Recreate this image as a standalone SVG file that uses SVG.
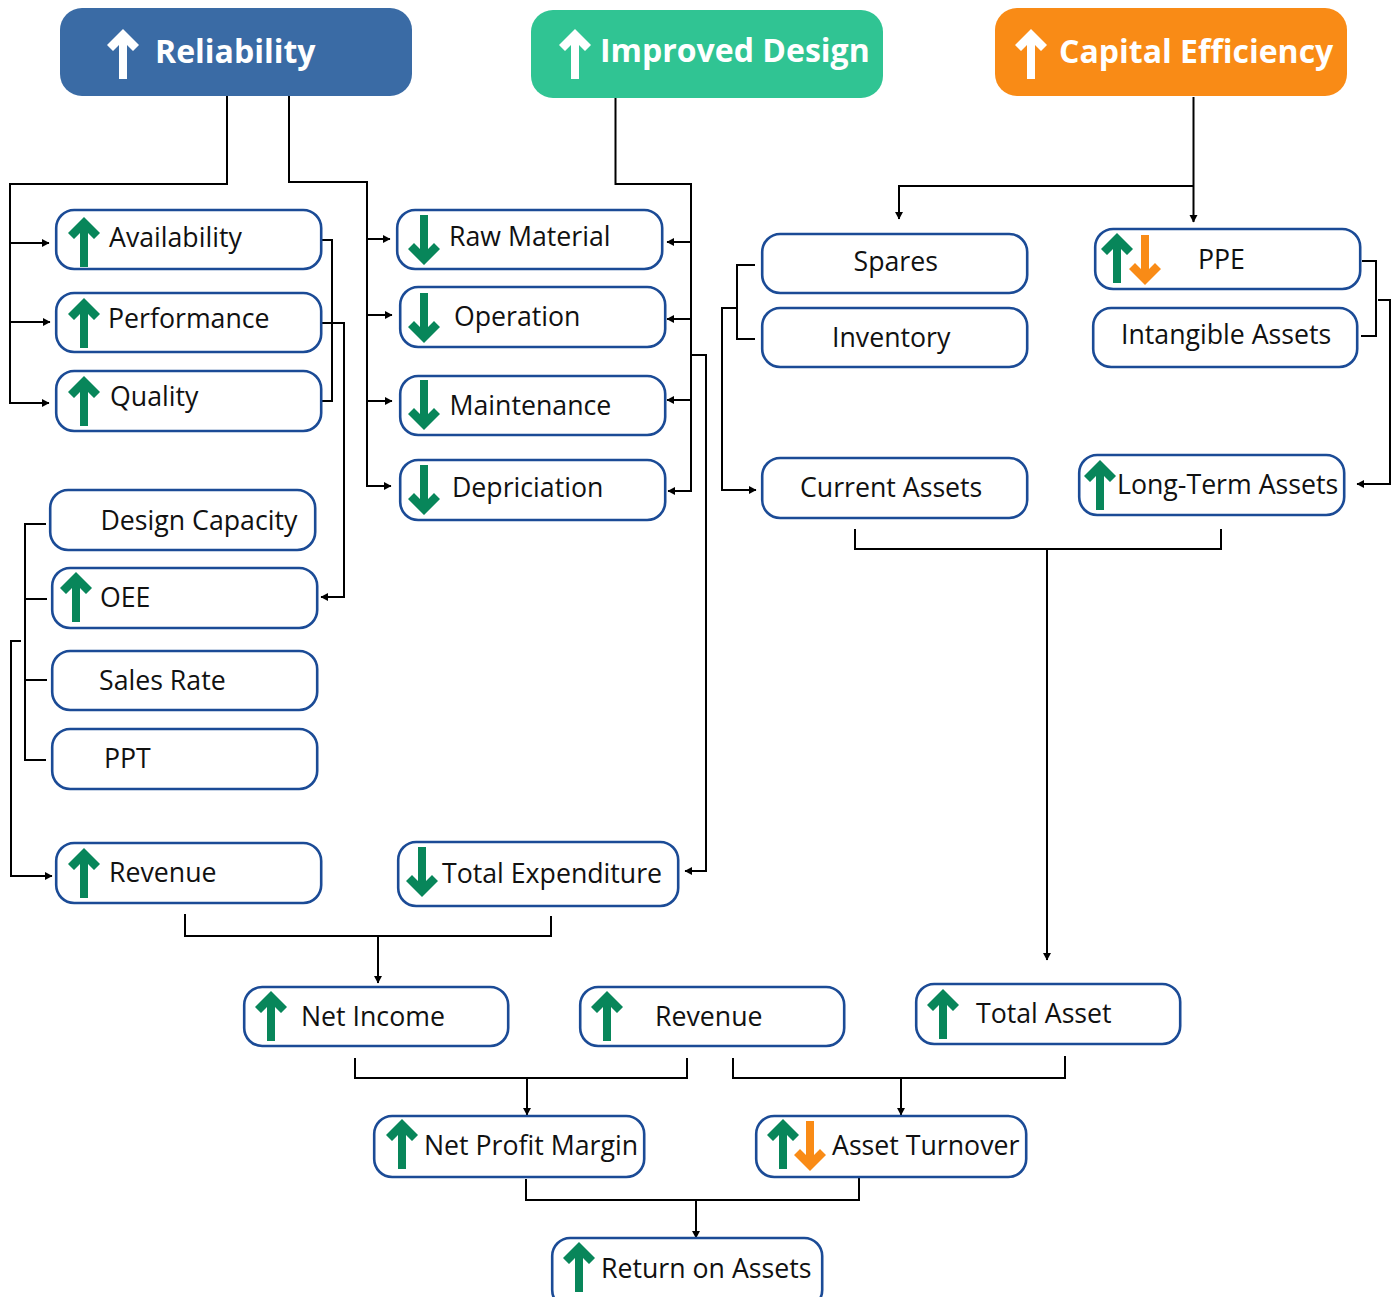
<svg xmlns="http://www.w3.org/2000/svg" width="1396" height="1297" viewBox="0 0 1396 1297">
<style>
text{font-family:"Open Sans","Noto Sans",sans-serif;fill:#111}
.n{font-size:26.7px}
.h{font-size:32px;font-weight:700;fill:#fff}
.b{fill:#fff;stroke:#1B4B96;stroke-width:2.6;transform:translate(.2px,0)}
.c path{fill:none;stroke:#000;stroke-width:2}
.c path.a{marker-end:url(#m)}
</style>
<defs>
<marker id="m" markerUnits="userSpaceOnUse" markerWidth="9" markerHeight="9" refX="7.5" refY="4.5" orient="auto"><path d="M0.5 0.5L8 4.5L0.5 8.5Z" fill="#000"/></marker>
<polygon id="up" points="0,0 16,16 10,22 4,16 4,50 -4,50 -4,16 -10,22 -16,16"/>
<polygon id="dn" points="0,50 16,34 10,28 4,34 4,0 -4,0 -4,34 -10,28 -16,34"/>
</defs>
<g id="connectors" class="c">
<path class="a" d="M227 96V184H10V243H49"/>
<path class="a" d="M10 243V322H50"/>
<path class="a" d="M10 322V403H49"/>
<path class="a" d="M289 96V182H367V239H390"/>
<path class="a" d="M367 239V315H392"/>
<path class="a" d="M367 315V401H392"/>
<path class="a" d="M367 401V486H391"/>
<path d="M322 240H332V401H322"/>
<path class="a" d="M322 323H344V597H321"/>
<path class="a" d="M615.500 98V184H691V242H667"/>
<path class="a" d="M691 242V319H667"/>
<path class="a" d="M691 319V400H667"/>
<path class="a" d="M691 400V491H668"/>
<path class="a" d="M691 355H706V871H685"/>
<path class="a" d="M1193.500 97V222"/>
<path class="a" d="M1193.500 186H899V219"/>
<path d="M755 265H737V339H755"/>
<path class="a" d="M737 308H722V490H756"/>
<path d="M1362 261H1376V336H1361"/>
<path class="a" d="M1378 300H1390V484H1357"/>
<path d="M855 529V549H1221V529"/>
<path class="a" d="M1047 549V960"/>
<path d="M25 599H47M25 680H47M46 524H25V760H46"/>
<path class="a" d="M21 641H11V876H52"/>
<path d="M185 914V936H551V916"/>
<path class="a" d="M378 936V983"/>
<path d="M355 1058V1078H687V1058"/>
<path class="a" d="M527 1078V1115"/>
<path d="M733 1058V1078H1065V1056"/>
<path class="a" d="M901 1078V1115"/>
<path d="M526 1179V1200H859V1178"/>
<path class="a" d="M696 1200V1238"/>
</g>
<g id="reliability"><rect x="60" y="8" width="352" height="88" rx="22" fill="#3A6BA5"/><use href="#up" x="123" y="29" fill="#fff"/><text class="h" x="155" y="63">Reliability</text></g>
<g id="improved-design"><rect x="531" y="10" width="352" height="88" rx="22" fill="#30C493"/><use href="#up" x="575" y="29" fill="#fff"/><text class="h" x="600" y="62">Improved Design</text></g>
<g id="capital-efficiency"><rect x="995" y="8" width="352" height="88" rx="22" fill="#F98B16"/><use href="#up" x="1031" y="29" fill="#fff"/><text class="h" x="1059" y="63">Capital Efficiency</text></g>
<g id="availability"><rect class="b" x="56" y="210" width="265" height="59" rx="18"/><use href="#up" x="84" y="217" fill="#08865A"/><text class="n" x="109" y="247">Availability</text></g>
<g id="performance"><rect class="b" x="56" y="293" width="265" height="59" rx="18"/><use href="#up" x="84" y="298" fill="#08865A"/><text class="n" x="108" y="328">Performance</text></g>
<g id="quality"><rect class="b" x="56" y="371" width="265" height="60" rx="18"/><use href="#up" x="84" y="376" fill="#08865A"/><text class="n" x="110" y="406">Quality</text></g>
<g id="design-capacity"><rect class="b" x="50" y="490" width="265" height="60" rx="18"/><text class="n" x="100.500" y="530">Design Capacity</text></g>
<g id="oee"><rect class="b" x="52" y="568" width="265" height="60" rx="18"/><use href="#up" x="76" y="572" fill="#08865A"/><text class="n" x="100" y="607">OEE</text></g>
<g id="sales-rate"><rect class="b" x="52" y="651" width="265" height="59" rx="18"/><text class="n" x="99" y="690">Sales Rate</text></g>
<g id="ppt"><rect class="b" x="52" y="729" width="265" height="60" rx="18"/><text class="n" x="104" y="768">PPT</text></g>
<g id="revenue-1"><rect class="b" x="56" y="843" width="265" height="60" rx="18"/><use href="#up" x="84" y="848" fill="#08865A"/><text class="n" x="109" y="882">Revenue</text></g>
<g id="raw-material"><rect class="b" x="397" y="210" width="265" height="59" rx="18"/><use href="#dn" x="424" y="215" fill="#08865A"/><text class="n" x="449" y="246">Raw Material</text></g>
<g id="operation"><rect class="b" x="400" y="287" width="265" height="60" rx="18"/><use href="#dn" x="424" y="293" fill="#08865A"/><text class="n" x="454" y="326">Operation</text></g>
<g id="maintenance"><rect class="b" x="400" y="376" width="265" height="59" rx="18"/><use href="#dn" x="424" y="380" fill="#08865A"/><text class="n" x="449.500" y="415">Maintenance</text></g>
<g id="depriciation"><rect class="b" x="400" y="460" width="265" height="60" rx="18"/><use href="#dn" x="424" y="465" fill="#08865A"/><text class="n" x="452" y="497">Depriciation</text></g>
<g id="total-expenditure"><rect class="b" x="398" y="842" width="280" height="64" rx="18"/><use href="#dn" x="422" y="847" fill="#08865A"/><text class="n" x="442" y="883">Total Expenditure</text></g>
<g id="spares"><rect class="b" x="762" y="234" width="265" height="59" rx="18"/><text class="n" x="853.500" y="271">Spares</text></g>
<g id="inventory"><rect class="b" x="762" y="308" width="265" height="59" rx="18"/><text class="n" x="832" y="347">Inventory</text></g>
<g id="current-assets"><rect class="b" x="762" y="458" width="265" height="60" rx="18"/><text class="n" x="800" y="497">Current Assets</text></g>
<g id="ppe"><rect class="b" x="1095" y="229" width="265" height="60" rx="18"/><use href="#up" x="1117" y="233" fill="#08865A"/><use href="#dn" x="1145" y="235" fill="#F98B16"/><text class="n" x="1198" y="269">PPE</text></g>
<g id="intangible-assets"><rect class="b" x="1093" y="308" width="264" height="59" rx="18"/><text class="n" x="1121" y="344">Intangible Assets</text></g>
<g id="long-term-assets"><rect class="b" x="1079" y="455" width="265" height="60" rx="18"/><use href="#up" x="1100" y="460" fill="#08865A"/><text class="n" x="1117" y="494">Long-Term Assets</text></g>
<g id="net-income"><rect class="b" x="244" y="987" width="264" height="59" rx="18"/><use href="#up" x="271" y="991" fill="#08865A"/><text class="n" x="301" y="1026">Net Income</text></g>
<g id="revenue-2"><rect class="b" x="580" y="987" width="264" height="59" rx="18"/><use href="#up" x="607" y="991" fill="#08865A"/><text class="n" x="655" y="1026">Revenue</text></g>
<g id="total-asset"><rect class="b" x="916" y="984" width="264" height="60" rx="18"/><use href="#up" x="943" y="989" fill="#08865A"/><text class="n" x="976" y="1023">Total Asset</text></g>
<g id="net-profit-margin"><rect class="b" x="374" y="1116" width="270" height="61" rx="18"/><use href="#up" x="402" y="1119" fill="#08865A"/><text class="n" x="424" y="1155">Net Profit Margin</text></g>
<g id="asset-turnover"><rect class="b" x="756" y="1116" width="270" height="61" rx="18"/><use href="#up" x="783" y="1119" fill="#08865A"/><use href="#dn" x="810" y="1121" fill="#F98B16"/><text class="n" x="832" y="1155">Asset Turnover</text></g>
<g id="return-on-assets"><rect class="b" x="552" y="1238" width="270" height="70" rx="18"/><use href="#up" x="579" y="1242" fill="#08865A"/><text class="n" x="601" y="1278">Return on Assets</text></g>
</svg>
